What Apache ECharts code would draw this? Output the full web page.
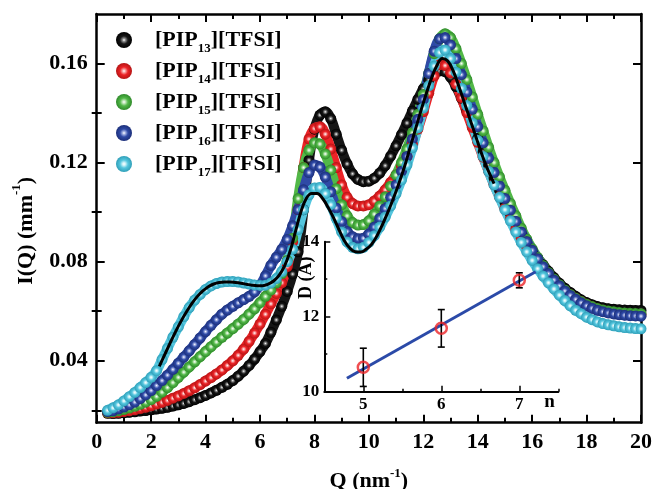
<!DOCTYPE html>
<html><head><meta charset="utf-8">
<script src="https://cdn.jsdelivr.net/npm/echarts@6/dist/echarts.min.js"></script>
<style>html,body{margin:0;padding:0;background:#fff}#c{width:652px;height:489px}</style>
</head><body><div id="c"></div>
<script>
// ---------- main plot data ----------
const Q = [0.4,0.6,0.8,1.0,1.2,1.4,1.6,1.8,2.0,2.2,2.4,2.6,2.8,3.0,3.2,3.4,3.6,3.8,4.0,4.2,4.4,4.6,4.8,5.0,5.2,5.4,5.6,5.8,6.0,6.2,6.4,6.6,6.8,7.0,7.2,7.4,7.6,7.8,8.0,8.2,8.4,8.6,8.8,9.0,9.2,9.4,9.6,9.8,10.0,10.2,10.4,10.6,10.8,11.0,11.2,11.4,11.6,11.8,12.0,12.2,12.4,12.6,12.8,13.0,13.2,13.4,13.6,13.8,14.0,14.2,14.4,14.6,14.8,15.0,15.2,15.4,15.6,15.8,16.0,16.2,16.4,16.6,16.8,17.0,17.2,17.4,17.6,17.8,18.0,18.2,18.4,18.6,18.8,19.0,19.2,19.4,19.6,19.8,20.0];

const iPIP13 = [0.0188,0.0187,0.0188,0.0190,0.0192,0.0194,0.0197,0.0199,0.0202,0.0205,
0.0208,0.0212,0.0217,0.0222,0.0228,0.0235,0.0243,0.0251,0.0260,0.0270,
0.0281,0.0293,0.0305,0.0320,0.0338,0.0358,0.0381,0.0407,0.0437,0.0470,
0.0515,0.0565,0.0620,0.0680,0.0750,0.0840,0.1010,0.1210,0.1335,0.1392,
0.1405,0.1378,0.1315,0.1250,0.1195,0.1155,0.1132,0.1123,0.1125,0.1137,
0.1158,0.1188,0.1226,0.1268,0.1313,0.1360,0.1408,0.1455,0.1498,0.1533,
0.1558,0.1570,0.1567,0.1545,0.1507,0.1460,0.1408,0.1353,0.1298,0.1243,
0.1190,0.1138,0.1088,0.1040,0.0995,0.0952,0.0912,0.0875,0.0842,0.0815,
0.0788,0.0761,0.0736,0.0713,0.0693,0.0676,0.0660,0.0646,0.0635,0.0626,
0.0619,0.0614,0.0610,0.0608,0.0606,0.0605,0.0604,0.0603,0.0603];

const iPIP14 = [0.0190,0.0190,0.0192,0.0195,0.0198,0.0202,0.0207,0.0212,0.0218,0.0225,
0.0232,0.0240,0.0249,0.0258,0.0268,0.0279,0.0291,0.0304,0.0318,0.0332,
0.0347,0.0363,0.0381,0.0400,0.0422,0.0447,0.0478,0.0512,0.0548,0.0588,
0.0630,0.0672,0.0715,0.0780,0.0880,0.1010,0.1180,0.1295,0.1338,0.1345,
0.1315,0.1255,0.1180,0.1110,0.1060,0.1035,0.1025,0.1025,0.1030,0.1045,
0.1065,0.1090,0.1120,0.1150,0.1185,0.1225,0.1275,0.1335,0.1405,0.1480,
0.1550,0.1595,0.1592,0.1562,0.1517,0.1462,0.1402,0.1342,0.1282,0.1222,
0.1166,0.1112,0.1062,0.1015,0.0972,0.0932,0.0895,0.0861,0.0830,0.0801,
0.0774,0.0748,0.0724,0.0703,0.0684,0.0667,0.0652,0.0639,0.0628,0.0618,
0.0610,0.0604,0.0599,0.0595,0.0592,0.0590,0.0588,0.0587,0.0586];

const iPIP15 = [0.0192,0.0194,0.0198,0.0203,0.0209,0.0216,0.0224,0.0233,0.0243,0.0256,
0.0273,0.0292,0.0312,0.0333,0.0354,0.0375,0.0396,0.0417,0.0437,0.0457,
0.0476,0.0495,0.0512,0.0530,0.0548,0.0567,0.0588,0.0610,0.0635,0.0660,
0.0685,0.0715,0.0752,0.0805,0.0895,0.1055,0.1180,0.1250,0.1280,0.1275,
0.1235,0.1170,0.1095,0.1030,0.0985,0.0958,0.0948,0.0950,0.0965,0.0992,
0.1025,0.1062,0.1105,0.1150,0.1200,0.1255,0.1320,0.1395,0.1475,0.1560,
0.1640,0.1700,0.1720,0.1705,0.1660,0.1600,0.1535,0.1465,0.1395,0.1328,
0.1262,0.1200,0.1142,0.1088,0.1035,0.0985,0.0935,0.0891,0.0852,0.0817,
0.0785,0.0756,0.0730,0.0707,0.0686,0.0668,0.0652,0.0639,0.0628,0.0619,
0.0611,0.0605,0.0601,0.0598,0.0595,0.0593,0.0592,0.0591,0.0590];

const iPIP16 = [0.0195,0.0198,0.0205,0.0213,0.0222,0.0233,0.0247,0.0262,0.0280,0.0300,
0.0320,0.0342,0.0365,0.0390,0.0415,0.0440,0.0466,0.0492,0.0518,0.0543,
0.0566,0.0588,0.0605,0.0620,0.0634,0.0647,0.0660,0.0678,0.0705,0.0743,
0.0785,0.0818,0.0850,0.0890,0.0945,0.1010,0.1090,0.1160,0.1190,0.1182,
0.1142,0.1082,0.1017,0.0962,0.0922,0.0901,0.0893,0.0895,0.0912,0.0940,
0.0975,0.1015,0.1060,0.1110,0.1165,0.1225,0.1295,0.1375,0.1455,0.1560,
0.1650,0.1700,0.1705,0.1675,0.1620,0.1555,0.1485,0.1415,0.1345,0.1280,
0.1218,0.1160,0.1105,0.1055,0.1008,0.0963,0.0920,0.0882,0.0846,0.0812,
0.0780,0.0752,0.0726,0.0703,0.0682,0.0664,0.0648,0.0634,0.0622,0.0612,
0.0604,0.0598,0.0593,0.0589,0.0586,0.0584,0.0582,0.0581,0.0580];

const iPIP17 = [0.0200,0.0210,0.0222,0.0238,0.0255,0.0272,0.0292,0.0312,0.0333,0.0360,
0.0405,0.0450,0.0495,0.0537,0.0578,0.0615,0.0645,0.0668,0.0688,0.0702,
0.0712,0.0718,0.0720,0.0720,0.0718,0.0714,0.0710,0.0706,0.0704,0.0705,
0.0714,0.0732,0.0760,0.0800,0.0850,0.0930,0.1010,0.1070,0.1098,0.1100,
0.1075,0.1030,0.0975,0.0920,0.0880,0.0858,0.0852,0.0858,0.0878,0.0905,
0.0940,0.0980,0.1025,0.1075,0.1130,0.1190,0.1260,0.1340,0.1420,0.1510,
0.1590,0.1645,0.1655,0.1620,0.1565,0.1500,0.1430,0.1360,0.1290,0.1225,
0.1165,0.1110,0.1060,0.1010,0.0965,0.0920,0.0878,0.0840,0.0805,0.0772,
0.0742,0.0715,0.0690,0.0665,0.0643,0.0622,0.0604,0.0590,0.0576,0.0566,
0.0557,0.0550,0.0545,0.0541,0.0537,0.0534,0.0532,0.0530,0.0529];

// black fit curve
const fitQ = [2.3,2.5,2.7,2.9,3.1,3.3,3.5,3.7,3.9,4.1,4.3,4.5,4.7,4.9,5.1,5.3,5.5,5.7,5.9,6.1,6.3,6.5,6.7,6.9,7.1,7.3,7.5,7.7,7.9,8.1,8.3,8.5,8.7,8.9,9.1,9.3,9.5,9.7,9.9,10.1,10.3,10.5,10.7,10.9,11.1,11.3,11.5,11.7,11.9,12.1,12.3,12.5,12.7,12.9,13.1,13.3,13.5,13.7,13.9,14.1,14.3,14.5,14.6];
const fitI = [0.0377,0.0425,0.0472,0.0518,0.0560,0.0598,0.0632,0.0660,0.0682,0.0699,
0.0710,0.0716,0.0718,0.0718,0.0716,0.0713,0.0709,0.0705,0.0703,0.0703,
0.0709,0.0722,0.0745,0.0782,0.0840,0.0920,0.1000,0.1055,0.1075,0.1075,
0.1055,0.1020,0.0978,0.0930,0.0885,0.0855,0.0840,0.0839,0.0850,0.0870,
0.0905,0.0950,0.1000,0.1055,0.1115,0.1180,0.1255,0.1330,0.1405,0.1475,
0.1540,0.1592,0.1620,0.1610,0.1570,0.1510,0.1445,0.1380,0.1315,0.1250,
0.1190,0.1140,0.1115];

const seriesNames = ['[PIP13][TFSI]','[PIP14][TFSI]','[PIP15][TFSI]','[PIP16][TFSI]','[PIP17][TFSI]'];
const yMajorVals = [0.04,0.08,0.12,0.16];
const yMinorVals = [0.02,0.06,0.10,0.14];

// ---------- inset data ----------
const nVals = [5, 6, 7];
const dVals = [10.65, 11.69, 12.97];
const dErr = [0.51, 0.50, 0.20];
const lineN = [4.79, 7.21];
const lineD = [10.36, 13.20];
const insetXMajor = [5, 6, 7];
const insetXMinor = [5.5, 6.5, 7.5];

// ---------- styles ----------
const FF = "'Liberation Serif','Times New Roman',serif";
const palette = [
  {c:'#161616', l:'#8a8a8a', d:'#000000'},
  {c:'#ec2327', l:'#f7a3a3', d:'#b51414'},
  {c:'#52b848', l:'#bfe6b8', d:'#2f8a2a'},
  {c:'#2f4aa6', l:'#9fade0', d:'#1c2f7a'},
  {c:'#54c6de', l:'#c8f0f7', d:'#2f9fb8'}
];
function sphere(p){
  return {type:'radial', x:0.5, y:0.5, r:0.5, colorStops:[
    {offset:0, color:'#ffffff'}, {offset:0.2, color:p.l}, {offset:0.5, color:p.c}, {offset:1, color:p.d}]};
}
const allVals = [iPIP13, iPIP14, iPIP15, iPIP16, iPIP17];

const mainSeries = seriesNames.map((nm, i) => ({
  name: nm, type: 'line', xAxisIndex: 0, yAxisIndex: 0, smooth: 0.4,
  data: Q.map((q, k) => [q, allVals[i][k]]),
  symbol: 'circle', symbolSize: 11, showSymbol: true,
  lineStyle: {color: palette[i].c, width: 10},
  itemStyle: {color: sphere(palette[i])},
  emphasis: {disabled: true}, z: 2
}));

const blk = '#000';
const tickStyle = {color: blk, width: 2};
const boldLabel = {fontFamily: FF, fontWeight: 'bold', color: blk};

const option = {
  animation: false,
  backgroundColor: '#ffffff',
  grid: [
    {left: 96.7, top: 14, right: 11, bottom: 66.3, containLabel: false, outerBoundsMode: 'none'},
    {left: 324.3, top: 241.7, width: 234, height: 150, containLabel: false, outerBoundsMode: 'none'}
  ],
  legend: {
    data: seriesNames, orient: 'vertical', left: 116, top: 29, padding: 0,
    itemWidth: 52, itemHeight: 16, itemGap: 5, icon: 'circle',
    selectedMode: false,
    formatter: nm => nm.replace(/\[PIP(\d+)\]\[TFSI\]/, '{b|[PIP}{s|$1}{b|][TFSI]}'),
    textStyle: {rich: {
      b: {fontSize: 22, lineHeight: 30, fontWeight: 'bold', fontFamily: FF, color: blk},
      s: {fontSize: 13, lineHeight: 11, verticalAlign: 'bottom', fontWeight: 'bold', fontFamily: FF, color: blk}
    }}
  },
  xAxis: [
    {gridIndex: 0, type: 'value', min: 0, max: 20, interval: 2, position: 'bottom',
     axisLine: {onZero: false, lineStyle: {color: blk, width: 2.5}},
     axisTick: {inside: true, length: 8, lineStyle: tickStyle},
     minorTick: {show: true, splitNumber: 2, length: 5, lineStyle: tickStyle},
     splitLine: {show: false}, minorSplitLine: {show: false},
     axisLabel: Object.assign({fontSize: 22, margin: 9}, boldLabel),
     name: '{b|Q (nm}{p|-1}{b|)}', nameLocation: 'middle', nameGap: 44, nameMoveOverlap: false,
     nameTextStyle: {rich: {
       b: {fontSize: 22, lineHeight: 30, fontWeight: 'bold', fontFamily: FF, color: blk},
       p: {fontSize: 13, lineHeight: 16, verticalAlign: 'top', fontWeight: 'bold', fontFamily: FF, color: blk}
     }}},
    {gridIndex: 0, type: 'value', min: 0, max: 20, interval: 2, position: 'top',
     axisLine: {onZero: false, lineStyle: {color: blk, width: 2.5}},
     axisTick: {inside: true, length: 8, lineStyle: tickStyle},
     minorTick: {show: true, splitNumber: 2, length: 5, lineStyle: tickStyle},
     splitLine: {show: false}, minorSplitLine: {show: false}, axisLabel: {show: false}},
    {gridIndex: 1, type: 'value', min: 4.5, max: 7.5, position: 'bottom',
     axisLine: {onZero: false, lineStyle: {color: blk, width: 2}},
     axisTick: {inside: true, length: 6, customValues: insetXMajor, lineStyle: {color: blk, width: 1.5}},
     splitLine: {show: false},
     axisLabel: Object.assign({fontSize: 17, margin: 4, customValues: insetXMajor}, boldLabel),
     name: 'n', nameLocation: 'end', nameGap: -14, nameMoveOverlap: false,
     nameTextStyle: {fontSize: 19, fontWeight: 'bold', fontFamily: FF, color: blk, verticalAlign: 'top', padding: [1, 0, 0, 0]}},
    {gridIndex: 1, type: 'value', min: 4.5, max: 7.5, position: 'bottom',
     axisLine: {show: false},
     axisTick: {inside: true, length: 3, customValues: insetXMinor, lineStyle: {color: blk, width: 1.5}},
     splitLine: {show: false}, axisLabel: {show: false}}
  ],
  yAxis: [
    {gridIndex: 0, type: 'value', min: 0.015, max: 0.18, position: 'left',
     axisLine: {show: true, onZero: false, lineStyle: {color: blk, width: 2.5}},
     axisTick: {inside: true, length: 8, customValues: yMajorVals, lineStyle: tickStyle},
     splitLine: {show: false},
     axisLabel: Object.assign({fontSize: 22, margin: 9, customValues: yMajorVals, formatter: v => v.toFixed(2)}, boldLabel),
     name: '{b|I(Q) (mm}{p|-1}{b|)}', nameLocation: 'middle', nameRotate: 90, nameGap: 53, nameMoveOverlap: false,
     nameTextStyle: {padding: [0, 25, 0, 0], rich: {
       b: {fontSize: 22, lineHeight: 34, fontWeight: 'bold', fontFamily: FF, color: blk},
       p: {fontSize: 13, lineHeight: 14, verticalAlign: 'top', fontWeight: 'bold', fontFamily: FF, color: blk}
     }}},
    {gridIndex: 0, type: 'value', min: 0.015, max: 0.18, position: 'left',
     axisLine: {show: false},
     axisTick: {inside: true, length: 5, customValues: yMinorVals, lineStyle: tickStyle},
     splitLine: {show: false}, axisLabel: {show: false}},
    {gridIndex: 0, type: 'value', min: 0.015, max: 0.18, position: 'right',
     axisLine: {show: true, onZero: false, lineStyle: {color: blk, width: 2.5}},
     axisTick: {inside: true, length: 8, customValues: yMajorVals, lineStyle: tickStyle},
     splitLine: {show: false}, axisLabel: {show: false}},
    {gridIndex: 0, type: 'value', min: 0.015, max: 0.18, position: 'right',
     axisLine: {show: false},
     axisTick: {inside: true, length: 5, customValues: yMinorVals, lineStyle: tickStyle},
     splitLine: {show: false}, axisLabel: {show: false}},
    {gridIndex: 1, type: 'value', min: 10, max: 14, interval: 2, position: 'left',
     axisLine: {show: true, onZero: false, lineStyle: {color: blk, width: 2}},
     axisTick: {inside: true, length: 6, lineStyle: {color: blk, width: 1.5}},
     minorTick: {show: true, splitNumber: 2, length: 3, lineStyle: {color: blk, width: 1.5}},
     splitLine: {show: false}, minorSplitLine: {show: false},
     axisLabel: Object.assign({fontSize: 17, margin: 5}, boldLabel),
     name: 'D (Å)', nameLocation: 'middle', nameRotate: 90, nameGap: 8, nameMoveOverlap: false,
     nameTextStyle: {fontSize: 18, lineHeight: 20, fontWeight: 'bold', fontFamily: FF, color: blk, padding: [0, 0, 0, 78]}}
  ],
  series: mainSeries.concat([
    {name: 'fit', type: 'line', xAxisIndex: 0, yAxisIndex: 0, smooth: 0.4, showSymbol: false,
     data: fitQ.map((q, k) => [q, fitI[k]]),
     lineStyle: {color: '#000', width: 3}, emphasis: {disabled: true}, z: 5},
    {name: 'Dfit', type: 'line', xAxisIndex: 2, yAxisIndex: 4, showSymbol: false,
     data: lineN.map((n, k) => [n, lineD[k]]),
     lineStyle: {color: '#2b4aa8', width: 3}, emphasis: {disabled: true}, z: 6},
    {name: 'Derr', type: 'custom', xAxisIndex: 2, yAxisIndex: 4, z: 7,
     data: nVals.map((n, k) => [n, dVals[k] - dErr[k], dVals[k] + dErr[k]]),
     renderItem: (params, api) => {
       const lo = api.coord([api.value(0), api.value(1)]);
       const hi = api.coord([api.value(0), api.value(2)]);
       const w = 3.5, st = {stroke: '#000', lineWidth: 1.6};
       return {type: 'group', children: [
         {type: 'line', shape: {x1: lo[0], y1: lo[1], x2: hi[0], y2: hi[1]}, style: st},
         {type: 'line', shape: {x1: lo[0]-w, y1: lo[1], x2: lo[0]+w, y2: lo[1]}, style: st},
         {type: 'line', shape: {x1: hi[0]-w, y1: hi[1], x2: hi[0]+w, y2: hi[1]}, style: st}
       ]};
     }},
    {name: 'D', type: 'scatter', xAxisIndex: 2, yAxisIndex: 4, z: 8,
     data: nVals.map((n, k) => [n, dVals[k]]),
     symbol: 'circle', symbolSize: 11,
     itemStyle: {color: 'rgba(255,255,255,0)', borderColor: '#ec2327', borderWidth: 2.5},
     emphasis: {disabled: true}}
  ])
};

const chart = echarts.init(document.getElementById('c'), null, {renderer: 'canvas'});
chart.setOption(option);
</script>
</body></html>
